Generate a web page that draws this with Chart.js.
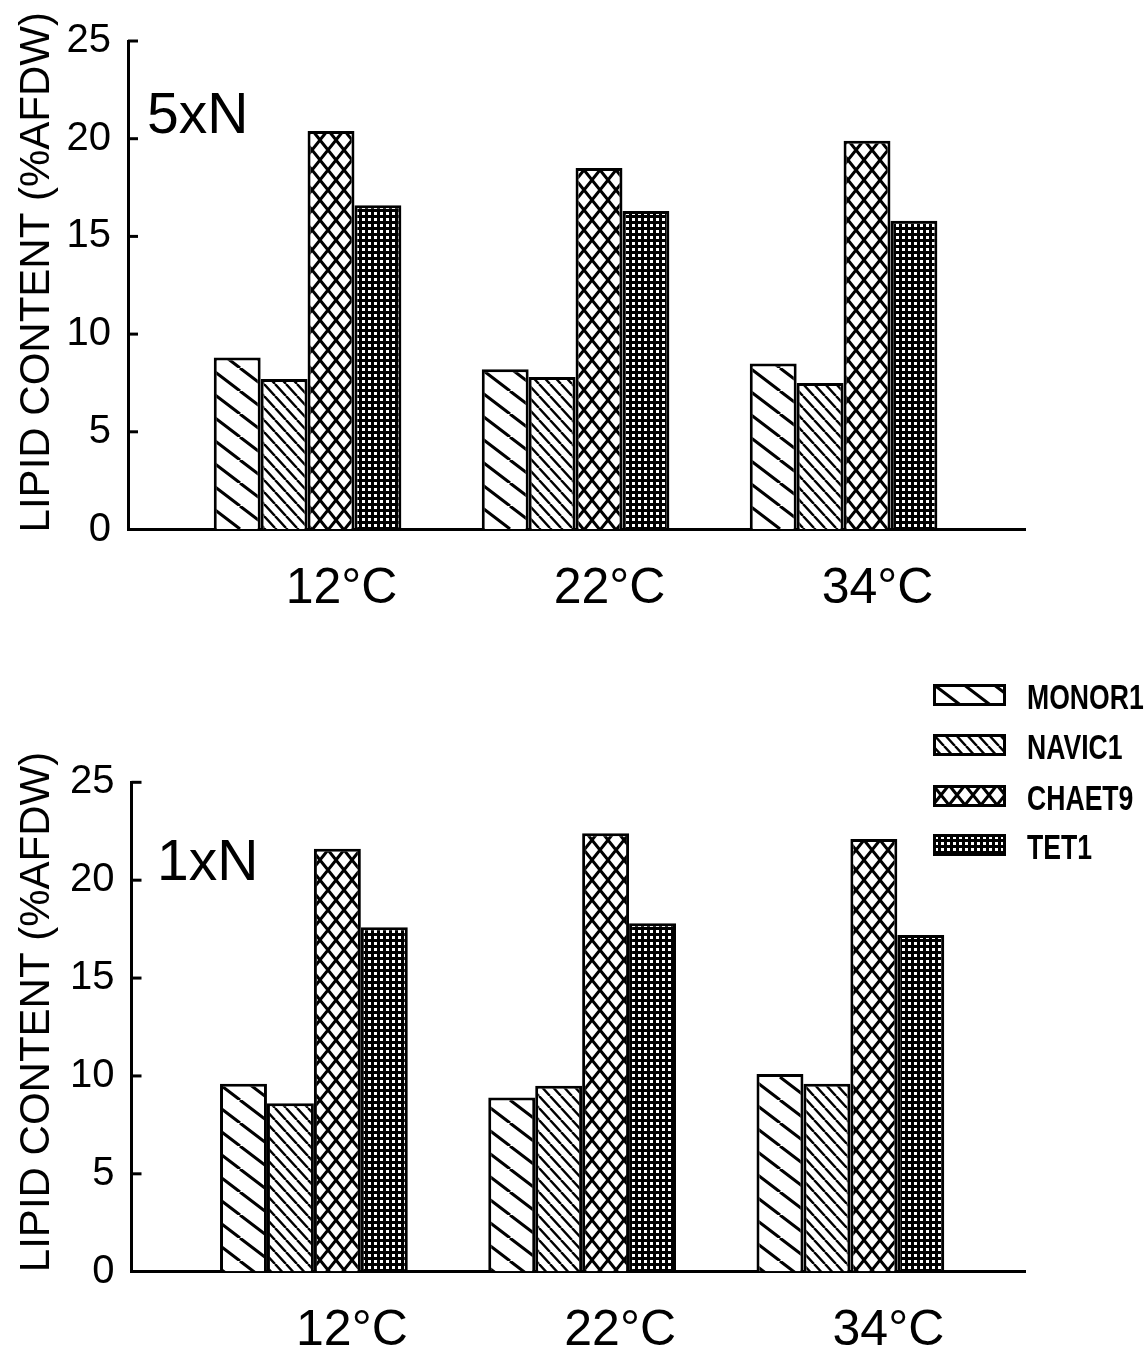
<!DOCTYPE html>
<html>
<head>
<meta charset="utf-8">
<script src="https://cdn.jsdelivr.net/npm/chart.js@4.4.0/dist/chart.umd.min.js"></script>
<style>
  html, body { margin: 0; padding: 0; background: #fff; }
  body { width: 1146px; height: 1355px; position: relative; overflow: hidden; }
  canvas.panel { position: absolute; left: 0; }
  #top { top: 0; }
  #bottom { top: 640px; }
  .item { position: absolute; left: 933px; width: 213px; height: 22px; }
  .item canvas { position: absolute; left: 0; top: 0; }
  .item span {
    position: absolute; left: 94px; top: -7px; line-height: 36px; white-space: nowrap;
    font: bold 35px 'Liberation Sans Narrow', 'Liberation Sans', Arial, sans-serif;
    color: #000; transform: scaleX(0.76); transform-origin: left center;
  }
</style>
</head>
<body>
<canvas id="top" class="panel" width="1146" height="650"></canvas>
<canvas id="bottom" class="panel" width="1146" height="715"></canvas>
<div id="legend"></div>
<script>
const temps = ['12°C', '22°C', '34°C'];
const strains = ['MONOR1', 'NAVIC1', 'CHAET9', 'TET1'];
const yTicks = [0, 5, 10, 15, 20, 25];

// 5xN nitrogen
const monor1_5xN = [8.8, 8.2, 8.5];
const navic1_5xN = [7.7, 7.8, 7.5];
const chaet9_5xN = [20.4, 18.5, 19.9];
const tet1_5xN = [16.6, 16.3, 15.8];

// 1xN nitrogen
const monor1_1xN = [9.6, 8.9, 10.1];
const navic1_1xN = [8.6, 9.5, 9.6];
const chaet9_1xN = [21.6, 22.4, 22.1];
const tet1_1xN = [17.6, 17.8, 17.2];

const FONT = "'Liberation Sans', Arial, sans-serif";
Chart.defaults.font.family = FONT;
Chart.defaults.color = '#000';

// hatch tiles, one per strain
function makeTile(kind) {
  const c = document.createElement('canvas');
  const dims = { monor: [30, 23], navic: [11, 12], chaet: [16, 20], tet: [6, 6] }[kind];
  const w = dims[0], h = dims[1];
  c.width = w; c.height = h;
  const g = c.getContext('2d');
  g.fillStyle = '#fff';
  g.fillRect(0, 0, w, h);
  g.strokeStyle = '#000';
  if (kind === 'tet') {
    g.fillStyle = '#000';
    g.fillRect(0, 0, w, h);
    g.fillStyle = '#fff';
    g.fillRect(2, 2, 3, 3);
    return c;
  }
  g.lineWidth = kind === 'navic' ? 2.4 : 3;
  g.beginPath();
  for (const k of [-1, 0, 1]) {
    g.moveTo(k * w, 0); g.lineTo(k * w + w, h);
    if (kind === 'chaet') { g.moveTo(k * w + w, 0); g.lineTo(k * w, h); }
  }
  g.stroke();
  return c;
}
const tiles = ['monor', 'navic', 'chaet', 'tet'].map(makeTile);
function patternsFor(ctx) {
  return tiles.map(t => ctx.createPattern(t, 'repeat'));
}

// small inward ticks on the y axis
const innerTicks = {
  id: 'innerTicks',
  afterDraw(chart) {
    const y = chart.scales.y, ctx = chart.ctx, x0 = chart.chartArea.left;
    ctx.save();
    ctx.strokeStyle = '#000';
    ctx.lineWidth = 3;
    y.ticks.forEach(t => {
      if (t.value === 0) return;
      const py = y.getPixelForValue(t.value);
      ctx.beginPath(); ctx.moveTo(x0, py); ctx.lineTo(x0 + 10, py); ctx.stroke();
    });
    ctx.restore();
  }
};

// panel tag (5xN / 1xN) and the rotated y title
const panelText = {
  id: 'panelText',
  afterDraw(chart, args, opts) {
    const ctx = chart.ctx, area = chart.chartArea;
    ctx.save();
    ctx.fillStyle = '#000';
    ctx.font = '57px ' + FONT;
    ctx.textBaseline = 'alphabetic';
    ctx.fillText(opts.text, opts.x, opts.y);

    ctx.translate(opts.titleX, (area.top + area.bottom) / 2 + opts.titleDy);
    ctx.rotate(-Math.PI / 2);
    ctx.font = '42px ' + FONT;
    ctx.textAlign = 'center';
    ctx.textBaseline = 'middle';
    ctx.fillText('LIPID CONTENT (%AFDW)', 0, 0);
    ctx.restore();
  }
};

function buildChart(id, series, o) {
  const canvas = document.getElementById(id);
  const pats = patternsFor(canvas.getContext('2d'));
  return new Chart(canvas, {
    type: 'bar',
    data: {
      datasets: strains.map((s, i) => ({
        label: s,
        data: temps.map((t, j) => ({ x: j + 1, y: series[i][j] })),
        backgroundColor: pats[i],
        borderColor: '#000',
        borderWidth: 3,
        borderSkipped: 'start',
        categoryPercentage: 0.70,
        barPercentage: 1
      }))
    },
    options: {
      responsive: false,
      animation: false,
      devicePixelRatio: 1,
      layout: { padding: { top: o.top, right: o.right, left: 0, bottom: 0 } },
      plugins: {
        legend: { display: false },
        tooltip: { enabled: false },
        panelText: { text: o.label, x: o.labelX, y: o.labelY, titleX: 37, titleDy: o.titleDy }
      },
      scales: {
        x: {
          type: 'linear',
          min: o.xmin, max: o.xmax,
          offset: false,
          grid: { display: true, drawOnChartArea: false, drawTicks: false },
          border: { display: true, color: '#000', width: 3 },
          afterBuildTicks: s => { s.ticks = temps.map((t, i) => ({ value: i + 1 })); },
          ticks: {
            callback: v => temps[v - 1],
            font: { size: 50 },
            padding: 30,
            labelOffset: o.labelOffset,
            autoSkip: false,
            maxRotation: 0
          },
          afterFit: s => { s.height = o.xh; }
        },
        y: {
          min: 0, max: 25,
          afterBuildTicks: s => { s.ticks = yTicks.map(v => ({ value: v })); },
          ticks: { font: { size: 40 }, padding: 17 },
          grid: { display: true, drawOnChartArea: false, drawTicks: false },
          border: { display: true, color: '#000', width: 3 },
          afterFit: s => { s.width = o.yw; }
        }
      }
    },
    plugins: [innerTicks, panelText]
  });
}

buildChart('top', [monor1_5xN, navic1_5xN, chaet9_5xN, tet1_5xN], {
  top: 33.5, right: 121, xh: 650 - 529.5, yw: 128,
  xmin: 0.330, xmax: 3.677, labelOffset: 34,
  label: '5xN', labelX: 147, labelY: 133, titleDy: -13
});
buildChart('bottom', [monor1_1xN, navic1_1xN, chaet9_1xN, tet1_1xN], {
  top: 142.3, right: 121, xh: 715 - 631.7, yw: 131.5,
  xmin: 0.320, xmax: 3.651, labelOffset: 38,
  label: '1xN', labelX: 157, labelY: 240, titleDy: -15
});

// legend
const legend = document.getElementById('legend');
const rowTops = [684, 734, 785, 834];
strains.forEach((s, i) => {
  const item = document.createElement('div');
  item.className = 'item';
  item.style.top = rowTops[i] + 'px';
  const sw = document.createElement('canvas');
  sw.width = 73; sw.height = 22;
  const g = sw.getContext('2d');
  g.fillStyle = g.createPattern(tiles[i], 'repeat');
  g.fillRect(0, 0, 73, 22);
  g.strokeStyle = '#000';
  g.lineWidth = 3;
  g.strokeRect(1.5, 1.5, 70, 19);
  const label = document.createElement('span');
  label.textContent = s;
  item.appendChild(sw);
  item.appendChild(label);
  legend.appendChild(item);
});
</script>
</body>
</html>
